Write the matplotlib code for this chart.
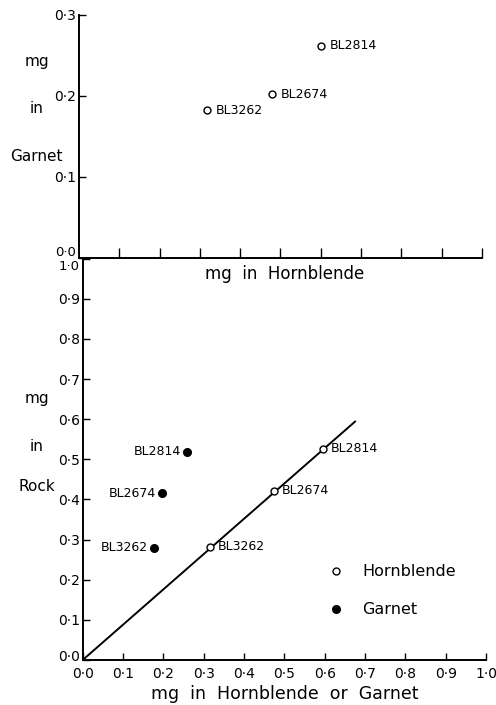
import numpy as np
import matplotlib.pyplot as plt
import matplotlib.transforms as mtransforms
from matplotlib.ticker import FuncFormatter

# data
samples = ["BL2814", "BL2674", "BL3262"]

# upper panel: mg in hornblende vs mg in garnet
hbl_top = [0.600, 0.478, 0.318]
grt_top = [0.262, 0.202, 0.182]

# lower panel: mg in mineral vs mg in rock
hbl_x = [0.595, 0.474, 0.315]
hbl_rock = [0.526, 0.421, 0.282]
grt_x = [0.258, 0.196, 0.176]
grt_rock = [0.519, 0.416, 0.279]

line_x = [0.0, 0.675]
line_y = [0.0, 0.594]

top_yticks = [0.0, 0.1, 0.2, 0.3]
xticks = [round(0.1 * k, 1) for k in range(11)]


def dot_fmt(v, pos):
    return f"{v:.1f}".replace(".", "\u00b7")


def nudge(label, dy_pts):
    label.set_transform(label.get_transform() +
                        mtransforms.ScaledTranslation(0, dy_pts / 72, fig.dpi_scale_trans))


fig = plt.figure(figsize=(4.96, 7.05), dpi=100)
ax1 = fig.add_axes([0.159, 0.634, 0.813, 0.345])
ax2 = fig.add_axes([0.167, 0.064, 0.813, 0.569])

for ax in (ax1, ax2):
    for s in ("top", "right"):
        ax.spines[s].set_visible(False)
    ax.spines["left"].set_linewidth(1.4)
    ax.spines["bottom"].set_linewidth(1.4)
    ax.tick_params(direction="in", length=5, width=1.0, labelsize=10, pad=2)
    ax.yaxis.set_major_formatter(FuncFormatter(dot_fmt))

# upper panel
ax1.set_xlim(0, 1.0)
ax1.set_ylim(0, 0.3)
ax1.set_xticks(xticks[1:])
ax1.tick_params(axis="x", labelbottom=False, length=7)
ax1.set_yticks(top_yticks)
ax1.plot(hbl_top, grt_top, "o", mfc="white", mec="black", ms=5, mew=1)
for x, y, name in zip(hbl_top, grt_top, samples):
    ax1.text(x + 0.022, y, name, fontsize=9, va="center", ha="left")
for txt, yy in (("mg", 0.242), ("in", 0.185), ("Garnet", 0.125)):
    ax1.text(-0.105, yy, txt, fontsize=11, ha="center", va="center",
             transform=ax1.get_yaxis_transform())

# lower panel
ax2.set_xlim(0, 1.0)
ax2.set_ylim(0, 1.0)
ax2.set_xticks(xticks)
ax2.set_yticks(xticks)
ax2.xaxis.set_major_formatter(FuncFormatter(dot_fmt))
ax2.tick_params(axis="x", pad=5)
ax2.plot(line_x, line_y, color="black", lw=1.4, zorder=1)
ax2.plot(hbl_x, hbl_rock, "o", mfc="white", mec="black", ms=5, mew=1,
         zorder=3, label="Hornblende")
ax2.plot(grt_x, grt_rock, "o", color="black", ms=5.5, zorder=3, label="Garnet")
for x, y, name in zip(hbl_x, hbl_rock, samples):
    ax2.text(x + 0.02, y, name, fontsize=9, va="center", ha="left")
for x, y, name in zip(grt_x, grt_rock, samples):
    ax2.text(x - 0.015, y, name, fontsize=9, va="center", ha="right")
for txt, yy in (("mg", 0.651), ("in", 0.531), ("Rock", 0.431)):
    ax2.text(-0.115, yy, txt, fontsize=11, ha="center", va="center",
             transform=ax2.get_yaxis_transform())

# keep the 0.0 / 1.0 labels apart at the panel seam and at the corner
fig.canvas.draw()
seam_lo = ax1.get_yticklabels()[0]
seam_hi = ax2.get_yticklabels()[-1]
seam_lo.set_fontsize(9.5)
seam_hi.set_fontsize(9.5)
nudge(seam_lo, 4.8)
nudge(seam_hi, -4.8)
nudge(ax2.get_yticklabels()[0], 3.5)

ax2.text(0.5, 0.985, "mg  in  Hornblende", fontsize=12, ha="center",
         va="top", transform=ax2.transAxes)
ax2.set_xlabel("mg  in  Hornblende  or  Garnet", fontsize=12.5, labelpad=3)

ax2.legend(loc="lower right", bbox_to_anchor=(0.96, 0.07), frameon=False,
           fontsize=11.5, handletextpad=1.0, labelspacing=1.45,
           handlelength=1.2)

fig.savefig("out.png", dpi=100)
